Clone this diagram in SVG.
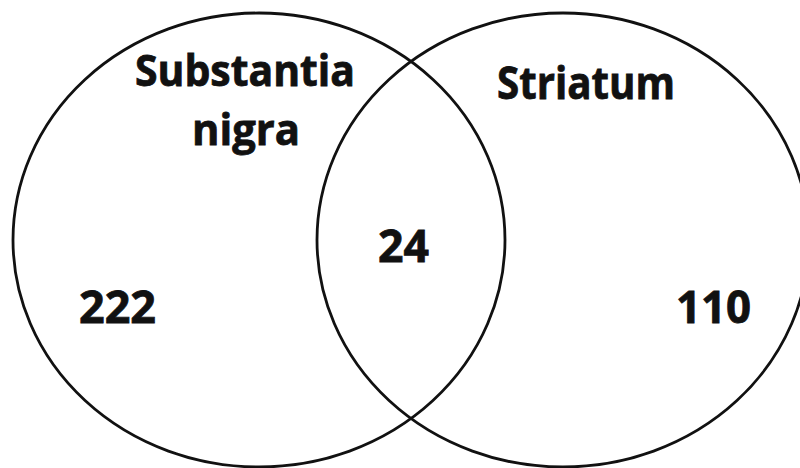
<svg xmlns="http://www.w3.org/2000/svg" width="800" height="468" viewBox="0 0 800 468">
  <style>
    .set { fill: none; stroke: #111; stroke-width: 2.8; }
    .lbl { font-family: "Open Sans", "Noto Sans", "DejaVu Sans", sans-serif; font-weight: 700; font-size: 45px; fill: #111; stroke: #111; stroke-width: 0.8; }
    .two { font-size: 43px; }
  </style>
  <rect width="800" height="468" fill="#fff"/>
  <g id="substantia-nigra">
    <ellipse class="set" cx="259" cy="240" rx="246" ry="227"/>
    <text class="lbl two" x="135" y="86" textLength="220" lengthAdjust="spacingAndGlyphs">Substantia</text>
    <text class="lbl two" x="192" y="145" textLength="108" lengthAdjust="spacingAndGlyphs">nigra</text>
    <text class="lbl" x="79" y="323" textLength="77" lengthAdjust="spacingAndGlyphs">222</text>
  </g>
  <g id="striatum">
    <ellipse class="set" cx="563" cy="240" rx="246" ry="227"/>
    <text class="lbl" x="497" y="99" textLength="178" lengthAdjust="spacingAndGlyphs">Striatum</text>
    <text class="lbl" x="676" y="323" textLength="75" lengthAdjust="spacingAndGlyphs">110</text>
  </g>
  <g id="overlap">
    <text class="lbl" x="378" y="262" textLength="51" lengthAdjust="spacingAndGlyphs">24</text>
  </g>
</svg>
